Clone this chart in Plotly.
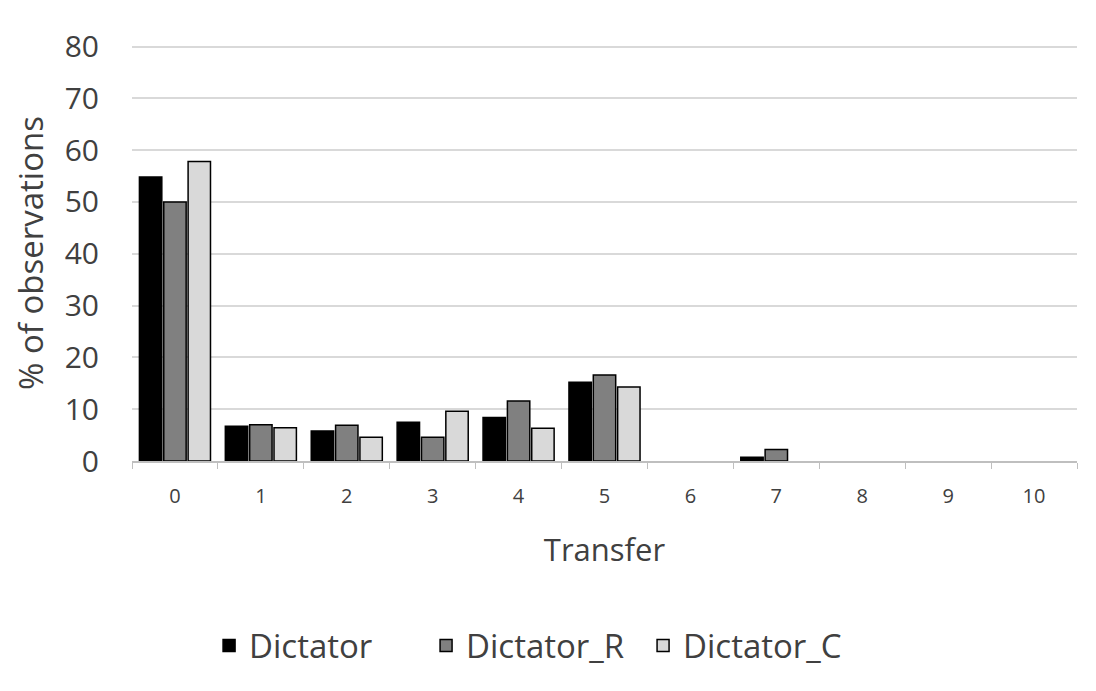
import plotly.graph_objects as go

categories = ["0", "1", "2", "3", "4", "5", "6", "7", "8", "9", "10"]
dictator = [54.8, 6.7, 5.8, 7.5, 8.4, 15.2, 0, 0.7, 0, 0, 0]
dictator_r = [50.0, 7.0, 6.9, 4.6, 11.6, 16.6, 0, 2.2, 0, 0, 0]
dictator_c = [57.8, 6.4, 4.6, 9.6, 6.3, 14.3, 0, 0, 0, 0, 0]

series = [("Dictator", dictator, "#000000"),
          ("Dictator_R", dictator_r, "#808080"),
          ("Dictator_C", dictator_c, "#d9d9d9")]

fig = go.Figure()
for name, vals, col in series:
    widths = [1.5 if v > 0 else 0 for v in vals]
    fig.add_trace(go.Bar(x=categories, y=vals, name=name,
                         marker=dict(color=col, line=dict(color="#000000", width=widths))))

font = "Open Sans, Noto Sans, sans-serif"
fig.update_layout(
    width=1080, height=675,
    paper_bgcolor="white", plot_bgcolor="white",
    margin=dict(l=124, r=11, t=37, b=221),
    barmode="group", bargap=0.15, bargroupgap=0.08,
    font=dict(family=font, color="#404040"),
    legend=dict(orientation="h", x=0.426, xanchor="center", y=-0.44, yanchor="middle",
                font=dict(size=33, color="#404040"), itemwidth=30,
                entrywidth=172, entrywidthmode="pixels",
                traceorder="normal"),
    xaxis=dict(type="category", showline=True, linecolor="#bfbfbf", linewidth=1.5,
               ticks="outside", tickson="boundaries", ticklen=6, tickcolor="#bfbfbf",
               tickfont=dict(size=20, color="#404040"), ticklabelstandoff=16,
               title=dict(text="Transfer", font=dict(size=31, color="#404040"), standoff=32),
               showgrid=False, automargin=False),
    yaxis=dict(range=[0, 80.3], dtick=10, showgrid=True, gridcolor="#d9d9d9", gridwidth=2,
               tickfont=dict(size=30, color="#404040"), ticklabelstandoff=32,
               zeroline=False, automargin=False,
               title=dict(text="% of observations", font=dict(size=33, color="#404040"), standoff=22)),
)

fig.write_html("out.html")
